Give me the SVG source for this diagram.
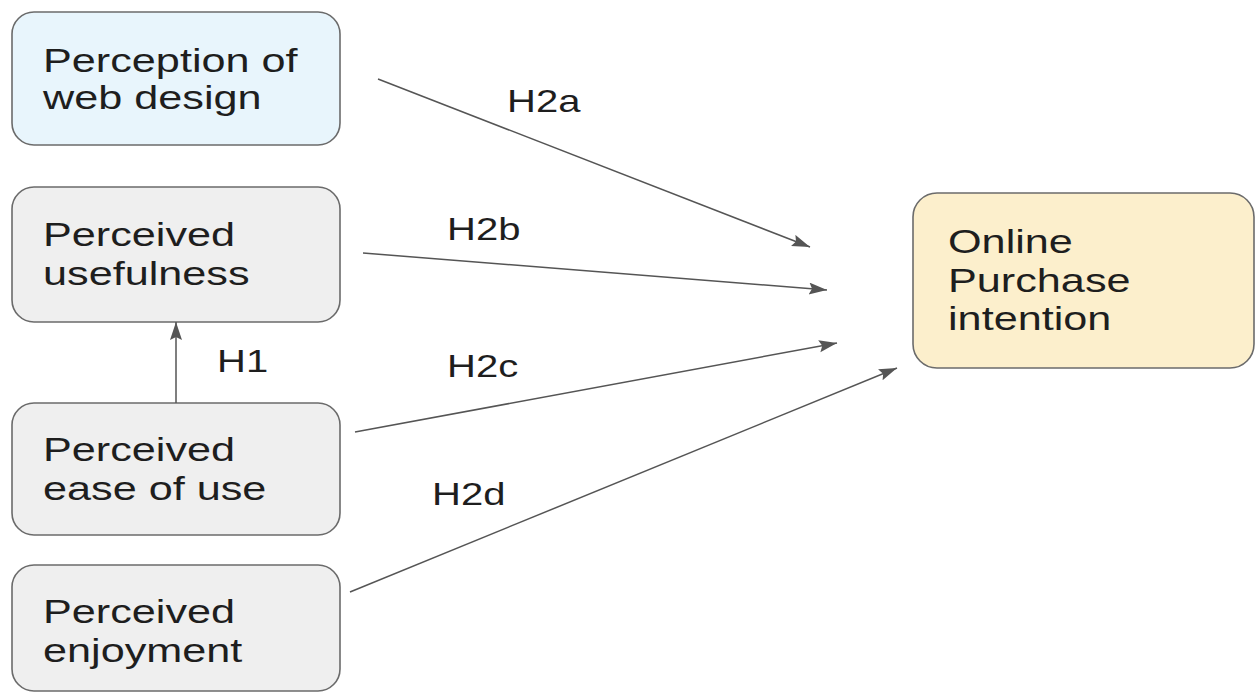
<svg xmlns="http://www.w3.org/2000/svg" width="1256" height="695" viewBox="0 0 1256 695">
  <defs>
    <style>
      .box { stroke: #6b6b6b; stroke-width: 1.6; }
      .blue { fill: #e8f5fc; }
      .grey { fill: #efefef; }
      .tan { fill: #fcefcc; }
      .lbl { font-family: "Liberation Sans", Arial, sans-serif; font-size: 33px; fill: #1e1e1e; }
      .hyp { font-family: "Liberation Sans", Arial, sans-serif; font-size: 32px; fill: #1e1e1e; }
      .edge { stroke: #555; stroke-width: 1.5; fill: none; marker-end: url(#arrow); }
    </style>
    <marker id="arrow" markerUnits="userSpaceOnUse" markerWidth="20" markerHeight="14" refX="18" refY="6" orient="auto">
      <path d="M0,0 L18,6 L0,12 L3,6 Z" fill="#555"/>
    </marker>
  </defs>
  <rect width="1256" height="695" fill="#ffffff"/>

  <!-- source constructs -->
  <g id="web-design">
    <rect class="box blue" x="12" y="12" width="328" height="133" rx="22"/>
    <text class="lbl" transform="translate(43,72) scale(1.31,1)"><tspan x="0" y="0">Perception of</tspan><tspan x="0" y="37">web design</tspan></text>
  </g>
  <g id="usefulness">
    <rect class="box grey" x="12" y="187" width="328" height="135" rx="22"/>
    <text class="lbl" transform="translate(43,246) scale(1.31,1)"><tspan x="0" y="0">Perceived</tspan><tspan x="0" y="39">usefulness</tspan></text>
  </g>
  <g id="ease-of-use">
    <rect class="box grey" x="12" y="403" width="328" height="132" rx="22"/>
    <text class="lbl" transform="translate(43,461) scale(1.31,1)"><tspan x="0" y="0">Perceived</tspan><tspan x="0" y="39">ease of use</tspan></text>
  </g>
  <g id="enjoyment">
    <rect class="box grey" x="12" y="565" width="328" height="126" rx="22"/>
    <text class="lbl" transform="translate(43,623) scale(1.31,1)"><tspan x="0" y="0">Perceived</tspan><tspan x="0" y="39">enjoyment</tspan></text>
  </g>

  <!-- outcome -->
  <g id="purchase-intention">
    <rect class="box tan" x="913" y="193" width="341" height="175" rx="24"/>
    <text class="lbl" transform="translate(948,253) scale(1.31,1)"><tspan x="0" y="0">Online</tspan><tspan x="0" y="39">Purchase</tspan><tspan x="0" y="77">intention</tspan></text>
  </g>

  <!-- hypothesised paths -->
  <g id="connectors">
    <line class="edge" x1="176" y1="403" x2="176" y2="322"/>
    <line class="edge" x1="378" y1="79" x2="810" y2="247"/>
    <line class="edge" x1="363" y1="253" x2="827" y2="290"/>
    <line class="edge" x1="355" y1="432" x2="837" y2="343"/>
    <line class="edge" x1="350" y1="592" x2="897" y2="368"/>
    <text class="hyp" transform="translate(217,372) scale(1.25,1)">H1</text>
    <text class="hyp" transform="translate(507,112) scale(1.25,1)">H2a</text>
    <text class="hyp" transform="translate(447,240) scale(1.25,1)">H2b</text>
    <text class="hyp" transform="translate(447,377) scale(1.25,1)">H2c</text>
    <text class="hyp" transform="translate(432,505) scale(1.25,1)">H2d</text>
  </g>
</svg>
